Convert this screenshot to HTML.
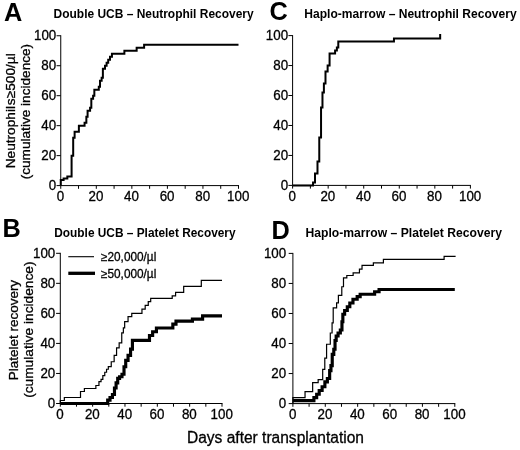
<!DOCTYPE html>
<html lang="en"><head><meta charset="utf-8"><title>Neutrophil and platelet recovery</title>
<style>html,body{margin:0;padding:0;background:#fff;}svg{display:block;}text{font-family:'Liberation Sans', Arial, Helvetica, sans-serif;fill:#000;stroke:#000;stroke-width:0.3px;}text.b{stroke:none;font-weight:bold;}</style></head><body>
<svg width="520" height="450" viewBox="0 0 520 450">
<rect width="520" height="450" fill="#fff"/>
<defs><filter id="soft" x="0" y="0" width="520" height="450" filterUnits="userSpaceOnUse"><feGaussianBlur stdDeviation="0.4"/></filter></defs>
<g filter="url(#soft)">
<text x="4.00" y="21.00" class="b" font-size="25.3">A</text>
<text x="2.50" y="236.60" class="b" font-size="25.3">B</text>
<text x="269.50" y="20.00" class="b" font-size="25.3">C</text>
<text x="271.40" y="239.40" class="b" font-size="25.3">D</text>
<text x="53.60" y="18.00" class="b" font-size="11.9" textLength="200.0" lengthAdjust="spacingAndGlyphs">Double UCB – Neutrophil Recovery</text>
<text x="304.30" y="18.00" class="b" font-size="11.9" textLength="212.3" lengthAdjust="spacingAndGlyphs">Haplo-marrow – Neutrophil Recovery</text>
<text x="54.30" y="236.80" class="b" font-size="11.9" textLength="181.3" lengthAdjust="spacingAndGlyphs">Double UCB – Platelet Recovery</text>
<text x="305.50" y="236.60" class="b" font-size="11.9" textLength="196.5" lengthAdjust="spacingAndGlyphs">Haplo-marrow – Platelet Recovery</text>
<path d="M60.75,35.25 V185.60 H239.00" fill="none" stroke="#000" stroke-width="1"/>
<path d="M56.55,185.60 H60.75" stroke="#000" stroke-width="1"/>
<text transform="translate(56.25,190.20) scale(0.97,1)" text-anchor="end" font-size="13.8">0</text>
<path d="M56.55,155.63 H60.75" stroke="#000" stroke-width="1"/>
<text transform="translate(56.25,160.23) scale(0.97,1)" text-anchor="end" font-size="13.8">20</text>
<path d="M56.55,125.66 H60.75" stroke="#000" stroke-width="1"/>
<text transform="translate(56.25,130.26) scale(0.97,1)" text-anchor="end" font-size="13.8">40</text>
<path d="M56.55,95.69 H60.75" stroke="#000" stroke-width="1"/>
<text transform="translate(56.25,100.29) scale(0.97,1)" text-anchor="end" font-size="13.8">60</text>
<path d="M56.55,65.72 H60.75" stroke="#000" stroke-width="1"/>
<text transform="translate(56.25,70.32) scale(0.97,1)" text-anchor="end" font-size="13.8">80</text>
<path d="M56.55,35.75 H60.75" stroke="#000" stroke-width="1"/>
<text transform="translate(56.25,40.35) scale(0.97,1)" text-anchor="end" font-size="13.8">100</text>
<path d="M60.75,185.60 V188.80" stroke="#000" stroke-width="1"/>
<text transform="translate(60.45,200.90) scale(0.97,1)" text-anchor="middle" font-size="13.8">0</text>
<path d="M78.53,185.60 V188.80" stroke="#000" stroke-width="1"/>
<path d="M96.30,185.60 V188.80" stroke="#000" stroke-width="1"/>
<text transform="translate(96.00,200.90) scale(0.97,1)" text-anchor="middle" font-size="13.8">20</text>
<path d="M114.08,185.60 V188.80" stroke="#000" stroke-width="1"/>
<path d="M131.85,185.60 V188.80" stroke="#000" stroke-width="1"/>
<text transform="translate(131.55,200.90) scale(0.97,1)" text-anchor="middle" font-size="13.8">40</text>
<path d="M149.62,185.60 V188.80" stroke="#000" stroke-width="1"/>
<path d="M167.40,185.60 V188.80" stroke="#000" stroke-width="1"/>
<text transform="translate(167.10,200.90) scale(0.97,1)" text-anchor="middle" font-size="13.8">60</text>
<path d="M185.18,185.60 V188.80" stroke="#000" stroke-width="1"/>
<path d="M202.95,185.60 V188.80" stroke="#000" stroke-width="1"/>
<text transform="translate(202.65,200.90) scale(0.97,1)" text-anchor="middle" font-size="13.8">80</text>
<path d="M220.72,185.60 V188.80" stroke="#000" stroke-width="1"/>
<path d="M238.50,185.60 V188.80" stroke="#000" stroke-width="1"/>
<text transform="translate(238.20,200.90) scale(0.97,1)" text-anchor="middle" font-size="13.8">100</text>
<path d="M292.60,35.10 V185.40 H470.90" fill="none" stroke="#000" stroke-width="1"/>
<path d="M288.40,185.40 H292.60" stroke="#000" stroke-width="1"/>
<text transform="translate(288.10,190.00) scale(0.97,1)" text-anchor="end" font-size="13.8">0</text>
<path d="M288.40,155.44 H292.60" stroke="#000" stroke-width="1"/>
<text transform="translate(288.10,160.04) scale(0.97,1)" text-anchor="end" font-size="13.8">20</text>
<path d="M288.40,125.48 H292.60" stroke="#000" stroke-width="1"/>
<text transform="translate(288.10,130.08) scale(0.97,1)" text-anchor="end" font-size="13.8">40</text>
<path d="M288.40,95.52 H292.60" stroke="#000" stroke-width="1"/>
<text transform="translate(288.10,100.12) scale(0.97,1)" text-anchor="end" font-size="13.8">60</text>
<path d="M288.40,65.56 H292.60" stroke="#000" stroke-width="1"/>
<text transform="translate(288.10,70.16) scale(0.97,1)" text-anchor="end" font-size="13.8">80</text>
<path d="M288.40,35.60 H292.60" stroke="#000" stroke-width="1"/>
<text transform="translate(288.10,40.20) scale(0.97,1)" text-anchor="end" font-size="13.8">100</text>
<path d="M292.60,185.40 V188.60" stroke="#000" stroke-width="1"/>
<text transform="translate(292.30,200.70) scale(0.97,1)" text-anchor="middle" font-size="13.8">0</text>
<path d="M310.38,185.40 V188.60" stroke="#000" stroke-width="1"/>
<path d="M328.16,185.40 V188.60" stroke="#000" stroke-width="1"/>
<text transform="translate(327.86,200.70) scale(0.97,1)" text-anchor="middle" font-size="13.8">20</text>
<path d="M345.94,185.40 V188.60" stroke="#000" stroke-width="1"/>
<path d="M363.72,185.40 V188.60" stroke="#000" stroke-width="1"/>
<text transform="translate(363.42,200.70) scale(0.97,1)" text-anchor="middle" font-size="13.8">40</text>
<path d="M381.50,185.40 V188.60" stroke="#000" stroke-width="1"/>
<path d="M399.28,185.40 V188.60" stroke="#000" stroke-width="1"/>
<text transform="translate(398.98,200.70) scale(0.97,1)" text-anchor="middle" font-size="13.8">60</text>
<path d="M417.06,185.40 V188.60" stroke="#000" stroke-width="1"/>
<path d="M434.84,185.40 V188.60" stroke="#000" stroke-width="1"/>
<text transform="translate(434.54,200.70) scale(0.97,1)" text-anchor="middle" font-size="13.8">80</text>
<path d="M452.62,185.40 V188.60" stroke="#000" stroke-width="1"/>
<path d="M470.40,185.40 V188.60" stroke="#000" stroke-width="1"/>
<text transform="translate(470.10,200.70) scale(0.97,1)" text-anchor="middle" font-size="13.8">100</text>
<path d="M60.30,252.80 V403.50 H222.50" fill="none" stroke="#000" stroke-width="1"/>
<path d="M56.10,403.50 H60.30" stroke="#000" stroke-width="1"/>
<text transform="translate(55.30,408.10) scale(0.97,1)" text-anchor="end" font-size="13.8">0</text>
<path d="M56.10,373.46 H60.30" stroke="#000" stroke-width="1"/>
<text transform="translate(55.30,378.06) scale(0.97,1)" text-anchor="end" font-size="13.8">20</text>
<path d="M56.10,343.42 H60.30" stroke="#000" stroke-width="1"/>
<text transform="translate(55.30,348.02) scale(0.97,1)" text-anchor="end" font-size="13.8">40</text>
<path d="M56.10,313.38 H60.30" stroke="#000" stroke-width="1"/>
<text transform="translate(55.30,317.98) scale(0.97,1)" text-anchor="end" font-size="13.8">60</text>
<path d="M56.10,283.34 H60.30" stroke="#000" stroke-width="1"/>
<text transform="translate(55.30,287.94) scale(0.97,1)" text-anchor="end" font-size="13.8">80</text>
<path d="M56.10,253.30 H60.30" stroke="#000" stroke-width="1"/>
<text transform="translate(55.30,257.90) scale(0.97,1)" text-anchor="end" font-size="13.8">100</text>
<path d="M60.30,403.50 V406.70" stroke="#000" stroke-width="1"/>
<text transform="translate(60.00,418.80) scale(0.97,1)" text-anchor="middle" font-size="13.8">0</text>
<path d="M76.47,403.50 V406.70" stroke="#000" stroke-width="1"/>
<path d="M92.64,403.50 V406.70" stroke="#000" stroke-width="1"/>
<text transform="translate(92.34,418.80) scale(0.97,1)" text-anchor="middle" font-size="13.8">20</text>
<path d="M108.81,403.50 V406.70" stroke="#000" stroke-width="1"/>
<path d="M124.98,403.50 V406.70" stroke="#000" stroke-width="1"/>
<text transform="translate(124.68,418.80) scale(0.97,1)" text-anchor="middle" font-size="13.8">40</text>
<path d="M141.15,403.50 V406.70" stroke="#000" stroke-width="1"/>
<path d="M157.32,403.50 V406.70" stroke="#000" stroke-width="1"/>
<text transform="translate(157.02,418.80) scale(0.97,1)" text-anchor="middle" font-size="13.8">60</text>
<path d="M173.49,403.50 V406.70" stroke="#000" stroke-width="1"/>
<path d="M189.66,403.50 V406.70" stroke="#000" stroke-width="1"/>
<text transform="translate(189.36,418.80) scale(0.97,1)" text-anchor="middle" font-size="13.8">80</text>
<path d="M205.83,403.50 V406.70" stroke="#000" stroke-width="1"/>
<path d="M222.00,403.50 V406.70" stroke="#000" stroke-width="1"/>
<text transform="translate(221.70,418.80) scale(0.97,1)" text-anchor="middle" font-size="13.8">100</text>
<path d="M292.90,252.90 V403.60 H455.30" fill="none" stroke="#000" stroke-width="1"/>
<path d="M288.70,403.60 H292.90" stroke="#000" stroke-width="1"/>
<text transform="translate(286.20,408.20) scale(0.97,1)" text-anchor="end" font-size="13.8">0</text>
<path d="M288.70,373.56 H292.90" stroke="#000" stroke-width="1"/>
<text transform="translate(286.20,378.16) scale(0.97,1)" text-anchor="end" font-size="13.8">20</text>
<path d="M288.70,343.52 H292.90" stroke="#000" stroke-width="1"/>
<text transform="translate(286.20,348.12) scale(0.97,1)" text-anchor="end" font-size="13.8">40</text>
<path d="M288.70,313.48 H292.90" stroke="#000" stroke-width="1"/>
<text transform="translate(286.20,318.08) scale(0.97,1)" text-anchor="end" font-size="13.8">60</text>
<path d="M288.70,283.44 H292.90" stroke="#000" stroke-width="1"/>
<text transform="translate(286.20,288.04) scale(0.97,1)" text-anchor="end" font-size="13.8">80</text>
<path d="M288.70,253.40 H292.90" stroke="#000" stroke-width="1"/>
<text transform="translate(286.20,258.00) scale(0.97,1)" text-anchor="end" font-size="13.8">100</text>
<path d="M292.90,403.60 V406.80" stroke="#000" stroke-width="1"/>
<text transform="translate(292.60,418.90) scale(0.97,1)" text-anchor="middle" font-size="13.8">0</text>
<path d="M309.09,403.60 V406.80" stroke="#000" stroke-width="1"/>
<path d="M325.28,403.60 V406.80" stroke="#000" stroke-width="1"/>
<text transform="translate(324.98,418.90) scale(0.97,1)" text-anchor="middle" font-size="13.8">20</text>
<path d="M341.47,403.60 V406.80" stroke="#000" stroke-width="1"/>
<path d="M357.66,403.60 V406.80" stroke="#000" stroke-width="1"/>
<text transform="translate(357.36,418.90) scale(0.97,1)" text-anchor="middle" font-size="13.8">40</text>
<path d="M373.85,403.60 V406.80" stroke="#000" stroke-width="1"/>
<path d="M390.04,403.60 V406.80" stroke="#000" stroke-width="1"/>
<text transform="translate(389.74,418.90) scale(0.97,1)" text-anchor="middle" font-size="13.8">60</text>
<path d="M406.23,403.60 V406.80" stroke="#000" stroke-width="1"/>
<path d="M422.42,403.60 V406.80" stroke="#000" stroke-width="1"/>
<text transform="translate(422.12,418.90) scale(0.97,1)" text-anchor="middle" font-size="13.8">80</text>
<path d="M438.61,403.60 V406.80" stroke="#000" stroke-width="1"/>
<path d="M454.80,403.60 V406.80" stroke="#000" stroke-width="1"/>
<text transform="translate(454.50,418.90) scale(0.97,1)" text-anchor="middle" font-size="13.8">100</text>
<text transform="translate(14.70,110.80) rotate(-90)" text-anchor="middle" font-size="13.5" textLength="115.0" lengthAdjust="spacingAndGlyphs">Neutrophil<tspan dx="0.9">s</tspan>≥500/µl</text>
<text transform="translate(30.20,111.60) rotate(-90)" text-anchor="middle" font-size="13.5" textLength="135.4" lengthAdjust="spacingAndGlyphs">(cumulative incidence)</text>
<text transform="translate(17.80,330.10) rotate(-90)" text-anchor="middle" font-size="13.5" textLength="100.4" lengthAdjust="spacingAndGlyphs">Platelet recovery</text>
<text transform="translate(32.90,329.70) rotate(-90)" text-anchor="middle" font-size="13.5" textLength="136.3" lengthAdjust="spacingAndGlyphs">(cumulative incidence)</text>
<text x="187" y="443.3" font-size="15.8" textLength="177" lengthAdjust="spacingAndGlyphs">Days after transplantation</text>
<path d="M60.75,185.60 L60.75,185.60 L60.75,180.06 L63.59,180.06 L63.59,178.41 L67.33,178.41 L67.33,176.61 L71.59,176.61 L71.59,155.63 L73.19,155.63 L73.19,137.65 L74.61,137.65 L74.61,131.65 L78.88,131.65 L78.88,125.66 L84.57,125.66 L84.57,122.66 L86.35,122.66 L86.35,116.67 L87.59,116.67 L87.59,110.67 L90.08,110.67 L90.08,107.68 L91.32,107.68 L91.32,98.69 L93.10,98.69 L93.10,95.69 L94.34,95.69 L94.34,89.70 L98.79,89.70 L98.79,86.70 L100.03,86.70 L100.03,80.70 L101.63,80.70 L101.63,77.71 L102.88,77.71 L102.88,68.72 L105.01,68.72 L105.01,65.72 L106.61,65.72 L106.61,62.72 L108.21,62.72 L108.21,59.73 L109.99,59.73 L109.99,56.73 L111.94,56.73 L111.94,53.73 L124.38,53.73 L124.38,50.73 L136.65,50.73 L136.65,47.74 L144.11,47.74 L144.11,44.74 L238.50,44.74" fill="none" stroke="#000" stroke-width="2" stroke-linejoin="miter"/>
<path d="M292.60,185.40 L313.05,185.40 L313.05,182.40 L315.00,182.40 L315.00,173.42 L317.49,173.42 L317.49,161.43 L319.27,161.43 L319.27,137.46 L321.05,137.46 L321.05,107.50 L322.47,107.50 L322.47,92.52 L323.89,92.52 L323.89,83.54 L325.49,83.54 L325.49,71.55 L327.63,71.55 L327.63,65.56 L329.58,65.56 L329.58,53.58 L335.09,53.58 L335.09,50.58 L336.87,50.58 L336.87,47.58 L338.29,47.58 L338.29,41.59 L393.95,41.59 L393.95,38.60 L440.17,38.60 L440.17,34.10" fill="none" stroke="#000" stroke-width="2" stroke-linejoin="miter"/>
<path d="M60.30,403.50 L60.30,403.50 L60.30,400.50 L64.34,400.50 L64.34,397.49 L80.51,397.49 L80.51,391.48 L84.39,391.48 L84.39,388.48 L95.87,388.48 L95.87,385.48 L98.95,385.48 L98.95,381.72 L101.05,381.72 L101.05,379.47 L102.83,379.47 L102.83,375.71 L104.77,375.71 L104.77,372.26 L106.55,372.26 L106.55,369.25 L108.32,369.25 L108.32,366.70 L111.24,366.70 L111.24,361.74 L114.15,361.74 L114.15,355.44 L116.57,355.44 L116.57,347.93 L119.16,347.93 L119.16,342.97 L121.75,342.97 L121.75,332.91 L123.36,332.91 L123.36,327.95 L124.66,327.95 L124.66,321.64 L128.05,321.64 L128.05,316.68 L131.77,316.68 L131.77,313.38 L141.96,313.38 L141.96,309.17 L145.19,309.17 L145.19,305.42 L148.26,305.42 L148.26,301.66 L150.69,301.66 L150.69,298.36 L172.20,298.36 L172.20,295.96 L175.59,295.96 L175.59,292.35 L183.68,292.35 L183.68,286.34 L201.30,286.34 L201.30,280.34 L222.00,280.34" fill="none" stroke="#000" stroke-width="1.2"/>
<path d="M60.30,403.50 L106.55,403.50 L107.68,403.50 L107.68,400.05 L108.81,400.05 L110.02,400.05 L110.02,397.49 L111.24,397.49 L112.45,397.49 L112.45,394.49 L113.66,394.49 L114.47,394.49 L114.47,388.03 L115.28,388.03 L116.09,388.03 L116.09,382.92 L116.89,382.92 L117.70,382.92 L117.70,378.42 L118.51,378.42 L119.56,378.42 L119.56,376.76 L120.61,376.76 L121.99,376.76 L121.99,374.21 L123.36,374.21 L124.01,374.21 L124.01,366.70 L124.66,366.70 L125.71,366.70 L125.71,360.39 L126.76,360.39 L128.05,360.39 L128.05,355.44 L129.35,355.44 L130.56,355.44 L130.56,349.13 L131.77,349.13 L132.42,349.13 L132.42,340.42 L133.06,340.42 L148.26,340.42 L149.48,340.42 L149.48,335.46 L150.69,335.46 L152.63,335.46 L152.63,331.70 L154.57,331.70 L156.43,331.70 L156.43,327.95 L158.29,327.95 L170.90,327.95 L172.84,327.95 L172.84,324.19 L174.78,324.19 L176.00,324.19 L176.00,321.19 L177.21,321.19 L191.12,321.19 L192.41,321.19 L192.41,319.09 L193.70,319.09 L201.30,319.09 L202.60,319.09 L202.60,315.93 L203.89,315.93 L222.00,315.93" fill="none" stroke="#000" stroke-width="3.15" stroke-linejoin="miter"/>
<path d="M292.90,403.60 L292.90,403.60 L292.90,397.59 L305.04,397.59 L305.04,391.58 L312.65,391.58 L312.65,382.57 L318.16,382.57 L318.16,379.57 L322.69,379.57 L322.69,369.35 L324.79,369.35 L324.79,358.09 L326.58,358.09 L326.58,344.27 L330.30,344.27 L330.30,333.01 L332.08,333.01 L332.08,322.94 L333.21,322.94 L333.21,307.92 L336.61,307.92 L336.61,302.97 L338.39,302.97 L338.39,295.46 L341.79,295.46 L341.79,286.74 L343.49,286.74 L343.49,277.88 L346.81,277.88 L346.81,275.48 L353.13,275.48 L353.13,272.93 L359.44,272.93 L359.44,269.17 L362.03,269.17 L362.03,265.42 L373.36,265.42 L373.36,262.86 L383.40,262.86 L383.40,259.41 L444.11,259.41 L444.11,256.40 L455.61,256.40" fill="none" stroke="#000" stroke-width="1.2"/>
<path d="M292.90,400.60 L312.65,400.60 L313.91,400.60 L313.91,397.59 L315.16,397.59 L316.66,397.59 L316.66,394.29 L318.16,394.29 L319.21,394.29 L319.21,390.53 L320.26,390.53 L322.12,390.53 L322.12,386.78 L323.98,386.78 L324.88,386.78 L324.88,381.82 L325.77,381.82 L327.38,381.82 L327.38,378.52 L329.00,378.52 L329.65,378.52 L329.65,370.56 L330.30,370.56 L330.95,370.56 L330.95,365.60 L331.59,365.60 L332.24,365.60 L332.24,354.33 L332.89,354.33 L333.78,354.33 L333.78,349.23 L334.67,349.23 L335.03,349.23 L335.03,340.52 L335.40,340.52 L336.17,340.52 L336.17,336.01 L336.94,336.01 L338.07,336.01 L338.07,333.01 L339.20,333.01 L340.34,333.01 L340.34,330.00 L341.47,330.00 L341.96,330.00 L341.96,321.74 L342.44,321.74 L342.85,321.74 L342.85,314.23 L343.25,314.23 L344.63,314.23 L344.63,310.48 L346.00,310.48 L347.30,310.48 L347.30,306.72 L348.59,306.72 L349.81,306.72 L349.81,302.97 L351.02,302.97 L352.96,302.97 L352.96,299.21 L354.91,299.21 L357.17,299.21 L357.17,296.66 L359.44,296.66 L360.17,296.66 L360.17,294.25 L360.90,294.25 L373.36,294.25 L374.62,294.25 L374.62,291.70 L375.87,291.70 L379.07,291.70 L379.07,289.45 L382.27,289.45 L454.80,289.45" fill="none" stroke="#000" stroke-width="3.15" stroke-linejoin="miter"/>
<path d="M68.3,256.7 H94" stroke="#000" stroke-width="1.1"/>
<path d="M68.3,273.3 H95" stroke="#000" stroke-width="3.3"/>
<text x="101" y="260.9" font-size="12.2" textLength="55.3" lengthAdjust="spacingAndGlyphs">≥20,000/µl</text>
<text x="101" y="277.8" font-size="12.2" textLength="55.3" lengthAdjust="spacingAndGlyphs">≥50,000/µl</text>
</g>
</svg></body></html>
